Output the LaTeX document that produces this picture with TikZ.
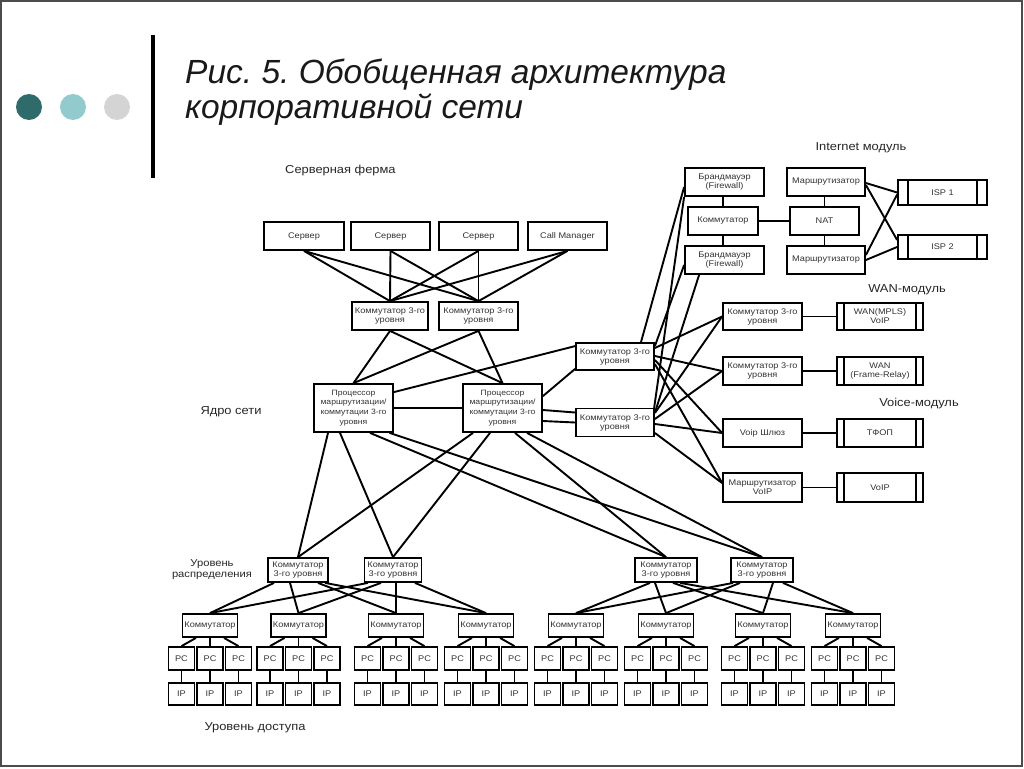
\documentclass[tikz,border=0pt]{standalone}
\usepackage{fontspec}
\setmainfont{Liberation Sans}
\newfontfamily\dgf[FakeStretch=1.12]{Liberation Sans}
\usetikzlibrary{calc}
\frenchspacing
\definecolor{dotA}{HTML}{2F6B6A}
\definecolor{dotB}{HTML}{92CACD}
\definecolor{dotC}{HTML}{D4D4D4}
\newcommand\bxx[6]{\node[bx, minimum width=#4pt, minimum height=#5pt] (#1) at (#2,#3) {#6};}
\newcommand\ebars[2]{\draw[ln] ([xshift=#2pt]#1.north west) -- ([xshift=#2pt]#1.south west);
  \draw[ln] ([xshift=-#2pt]#1.north east) -- ([xshift=-#2pt]#1.south east);}
\begin{document}
\begin{tikzpicture}[x=1pt,y=-1pt,
  bx/.style={draw=black, line width=1.8pt, inner sep=0pt, align=center,
    font=\dgf\fontsize{8.2}{9}\selectfont, text=black!80},
  cbx/.style={bx, font=\dgf\fontsize{7.7}{9.8}\selectfont},
  ln/.style={line width=1.9pt, black},
  lbl/.style={font=\dgf\fontsize{11.5}{12.5}\selectfont, text=black!85, align=center, inner sep=0pt}]
\useasboundingbox (0,0) rectangle (1024,768);
\draw[line width=1.5pt, black!70] (1,1) rectangle (1022,766);
% header
\fill[dotA] (29,107) circle (13pt);
\fill[dotB] (73,107) circle (13pt);
\fill[dotC] (117,107) circle (13pt);
\fill[black] (150.5,35) rectangle (155,178);
\node[anchor=base west, inner sep=0pt, font=\fontsize{33.5}{36}\selectfont\itshape, text=black!90] (t1) at (185,83) {Рис. 5. Обобщенная архитектура};
\node[anchor=base west, inner sep=0pt, font=\fontsize{33.5}{36}\selectfont\itshape, text=black!90] (t2) at (185,118) {корпоративной сети};
% labels
\node[lbl, anchor=west] (lsf) at (285,171) {Серверная ферма};
\node[lbl] (lin) at (861,148) {Internet модуль};
\node[lbl] (lwan) at (907,290) {WAN-модуль};
\node[lbl] (lvo) at (919,404) {Voice-модуль};
\node[lbl] (lcore) at (231,412) {Ядро сети};
\node[lbl, font=\dgf\fontsize{10}{11}\selectfont] (ldist) at (212,570) {Уровень\\распределения};
\node[lbl] (lacc) at (255,728) {Уровень доступа};
% server farm
\bxx{s1}{304}{236}{80}{28}{Сервер}
\bxx{s2}{390.5}{236}{79}{28}{Сервер}
\bxx{s3}{478.5}{236}{79}{28}{Сервер}
\bxx{s4}{567.5}{236}{79}{28}{Call Manager}
\bxx{fa}{390}{316}{76}{28}{Коммутатор 3-го\\уровня}
\bxx{fb}{478.5}{316}{79}{28}{Коммутатор 3-го\\уровня}
\foreach \s in {s1,s2,s3,s4}{\draw[ln] (\s.south) -- (fa.north); \draw[ln] (\s.south) -- (fb.north);}
% core
\node[cbx, minimum width=79pt, minimum height=48pt] (c1) at (353.5,408) {Процессор\\маршрутизации/\\коммутации 3-го\\уровня};
\node[cbx, minimum width=79pt, minimum height=48pt] (c2) at (502.5,408) {Процессор\\маршрутизации/\\коммутации 3-го\\уровня};
\draw[ln] (fa.south) -- (c1.north); \draw[ln] (fa.south) -- (c2.north);
\draw[ln] (fb.south) -- (c1.north); \draw[ln] (fb.south) -- (c2.north);
\draw[ln] (c1.east) -- (c2.west);
% middle switches
\bxx{m1}{615}{356.5}{78}{27}{Коммутатор 3-го\\уровня}
\bxx{m2}{615}{422.5}{78}{28}{Коммутатор 3-го\\уровня}
\draw[ln] ([yshift=-9pt]c1.north east) -- ([yshift=-4pt]m1.north west);
\draw[ln] ([yshift=-13pt]c2.north east) -- ([yshift=2pt]m1.south west);
\draw[ln] ([yshift=-2pt]c2.east) -- ([yshift=10pt]m2.west);
\draw[ln] ([yshift=-13pt]c2.east) -- (m2.west);
% internet module
\bxx{fw1}{724.5}{182}{79}{28}{Брандмауэр\\(Firewall)}
\bxx{k}{723}{221}{70}{28}{Коммутатор}
\bxx{fw2}{724.5}{260}{79}{28}{Брандмауэр\\(Firewall)}
\bxx{r1}{826}{182}{78}{28}{Маршрутизатор}
\bxx{nat}{824.5}{221}{69}{28}{NAT}
\bxx{r2}{826}{260}{78}{28}{Маршрутизатор}
\bxx{isp1}{942.5}{192.5}{89}{25}{ISP 1}
\bxx{isp2}{942.5}{247}{89}{24}{ISP 2}
\ebars{isp1}{11}
\ebars{isp2}{11}
\draw[ln] (k.north) -- (k.north |- fw1.south);
\draw[ln] (k.south) -- (k.south |- fw2.north);
\draw[ln] (k.east) -- (nat.west);
\draw[ln] (nat.north) -- (nat.north |- r1.south);
\draw[ln] (nat.south) -- (nat.south |- r2.north);
\draw[ln] ([yshift=-1pt]r1.east) -- (isp1.west);
\draw[ln] ([yshift=-3pt]r1.east) -- ([yshift=7pt]isp2.west);
\draw[ln] ([yshift=5pt]r2.east) -- ([yshift=-2pt]isp1.west);
\draw[ln] (r2.east) -- (isp2.west);
% links middle -> firewalls
\draw[ln] ([xshift=26pt]m1.north) -- ([yshift=-5pt]fw1.west);
\draw[ln] ([xshift=-1pt,yshift=-2pt]m2.north east) -- (fw1.south west);
\draw[ln] ([yshift=-4pt]m1.north east) -- ([yshift=-5pt]fw2.west);
\draw[ln] ([yshift=-5pt]m2.north east) -- ([xshift=15pt]fw2.south west);
% WAN / voice
\bxx{w1}{762.5}{316.5}{79}{27}{Коммутатор 3-го\\уровня}
\bxx{w2}{762.5}{371}{79}{28}{Коммутатор 3-го\\уровня}
\bxx{v}{762.5}{433}{79}{28}{Voip Шлюз}
\bxx{rv}{762.5}{487.5}{79}{29}{Маршрутизатор\\VoIP}
\bxx{e1}{880}{316.5}{86}{27}{WAN(MPLS)\\VoIP}
\bxx{e2}{880}{371}{86}{28}{WAN\\(Frame-Relay)}
\bxx{e3}{880}{433}{86}{28}{ТФОП}
\bxx{e4}{880}{487.5}{86}{29}{VoIP}
\foreach \e in {e1,e2,e3,e4}{\ebars{\e}{8}}
\draw[ln] (w1.east) -- (e1.west);
\draw[ln] (w2.east) -- (e2.west);
\draw[ln] (v.east) -- (e3.west);
\draw[ln] (rv.east) -- (e4.west);
\draw[ln] ([yshift=8.5pt]m1.east) -- (w1.west);
\draw[ln] ([yshift=0.5pt]m1.east) -- (w2.west);
\draw[ln] ([yshift=-3.5pt]m1.east) -- (v.west);
\draw[ln] ([yshift=-7.5pt]m1.east) -- ([yshift=4.5pt]rv.west);
\draw[ln] ([yshift=9.5pt]m2.east) -- (w1.west);
\draw[ln] ([yshift=3.5pt]m2.east) -- (w2.west);
\draw[ln] ([yshift=-1.5pt]m2.east) -- (v.west);
\draw[ln] ([yshift=-10.5pt]m2.east) -- ([yshift=4.5pt]rv.west);
% distribution
\bxx{d1}{298}{570}{60}{24}{Коммутатор\\3-го уровня}
\bxx{d2}{393}{570}{57}{24}{Коммутатор\\3-го уровня}
\bxx{d3}{666}{570}{62}{24}{Коммутатор\\3-го уровня}
\bxx{d4}{762}{570}{62}{24}{Коммутатор\\3-го уровня}
\draw[ln] ([xshift=-25.5pt]c1.south) -- (d1.north);
\draw[ln] ([xshift=-13.5pt]c1.south) -- (d2.north);
\draw[ln] ([xshift=16.5pt]c1.south) -- (d3.north);
\draw[ln] ([xshift=36pt]c1.south) -- (d4.north);
\draw[ln] ([xshift=-29.5pt]c2.south) -- (d1.north);
\draw[ln] ([xshift=-12.5pt]c2.south) -- (d2.north);
\draw[ln] ([xshift=12.5pt]c2.south) -- (d3.north);
\draw[ln] ([xshift=24.5pt]c2.south) -- (d4.north);
% access
\foreach \i/\g in {1/210,2/298.5,3/396,4/486,5/576,6/666,7/763,8/853}{
  \node[bx, minimum width=55pt, minimum height=23pt] (sw\i) at (\g,625.5) {Коммутатор};
  \foreach \j/\o in {1/-28.5,2/0,3/28.5}{
    \node[bx, minimum width=26pt, minimum height=23pt] (pc\i\j) at ([xshift=\o pt]\g,658.5) {PC};
    \node[bx, minimum width=26pt, minimum height=22pt] (ip\i\j) at ([xshift=\o pt]\g,694) {IP};
    \draw[ln] (pc\i\j.south) -- (ip\i\j.north);
  }
  \draw[ln] ([xshift=-14pt]sw\i.south) -- (pc\i1.north);
  \draw[ln] (sw\i.south) -- (pc\i2.north);
  \draw[ln] ([xshift=14pt]sw\i.south) -- (pc\i3.north);
}
\draw[ln] ([xshift=-24pt]d1.south) -- (sw1.north);
\draw[ln] ([xshift=-8pt]d1.south) -- (sw2.north);
\draw[ln] ([xshift=20pt]d1.south) -- (sw3.north);
\draw[ln] ([xshift=27pt]d1.south) -- (sw4.north);
\draw[ln] ([xshift=-25pt]d2.south) -- (sw1.north);
\draw[ln] ([xshift=-12pt]d2.south) -- (sw2.north);
\draw[ln] ([xshift=3pt]d2.south) -- (sw3.north);
\draw[ln] ([xshift=22pt]d2.south) -- (sw4.north);
\draw[ln] ([xshift=-16pt]d3.south) -- (sw5.north);
\draw[ln] ([xshift=-11pt]d3.south) -- (sw6.north);
\draw[ln] ([xshift=7pt]d3.south) -- (sw7.north);
\draw[ln] ([xshift=14pt]d3.south) -- (sw8.north);
\draw[ln] ([xshift=-29pt]d4.south) -- (sw5.north);
\draw[ln] ([xshift=-22pt]d4.south) -- (sw6.north);
\draw[ln] ([xshift=11pt]d4.south) -- (sw7.north);
\draw[ln] ([xshift=21pt]d4.south) -- (sw8.north);
\end{tikzpicture}
\end{document}
